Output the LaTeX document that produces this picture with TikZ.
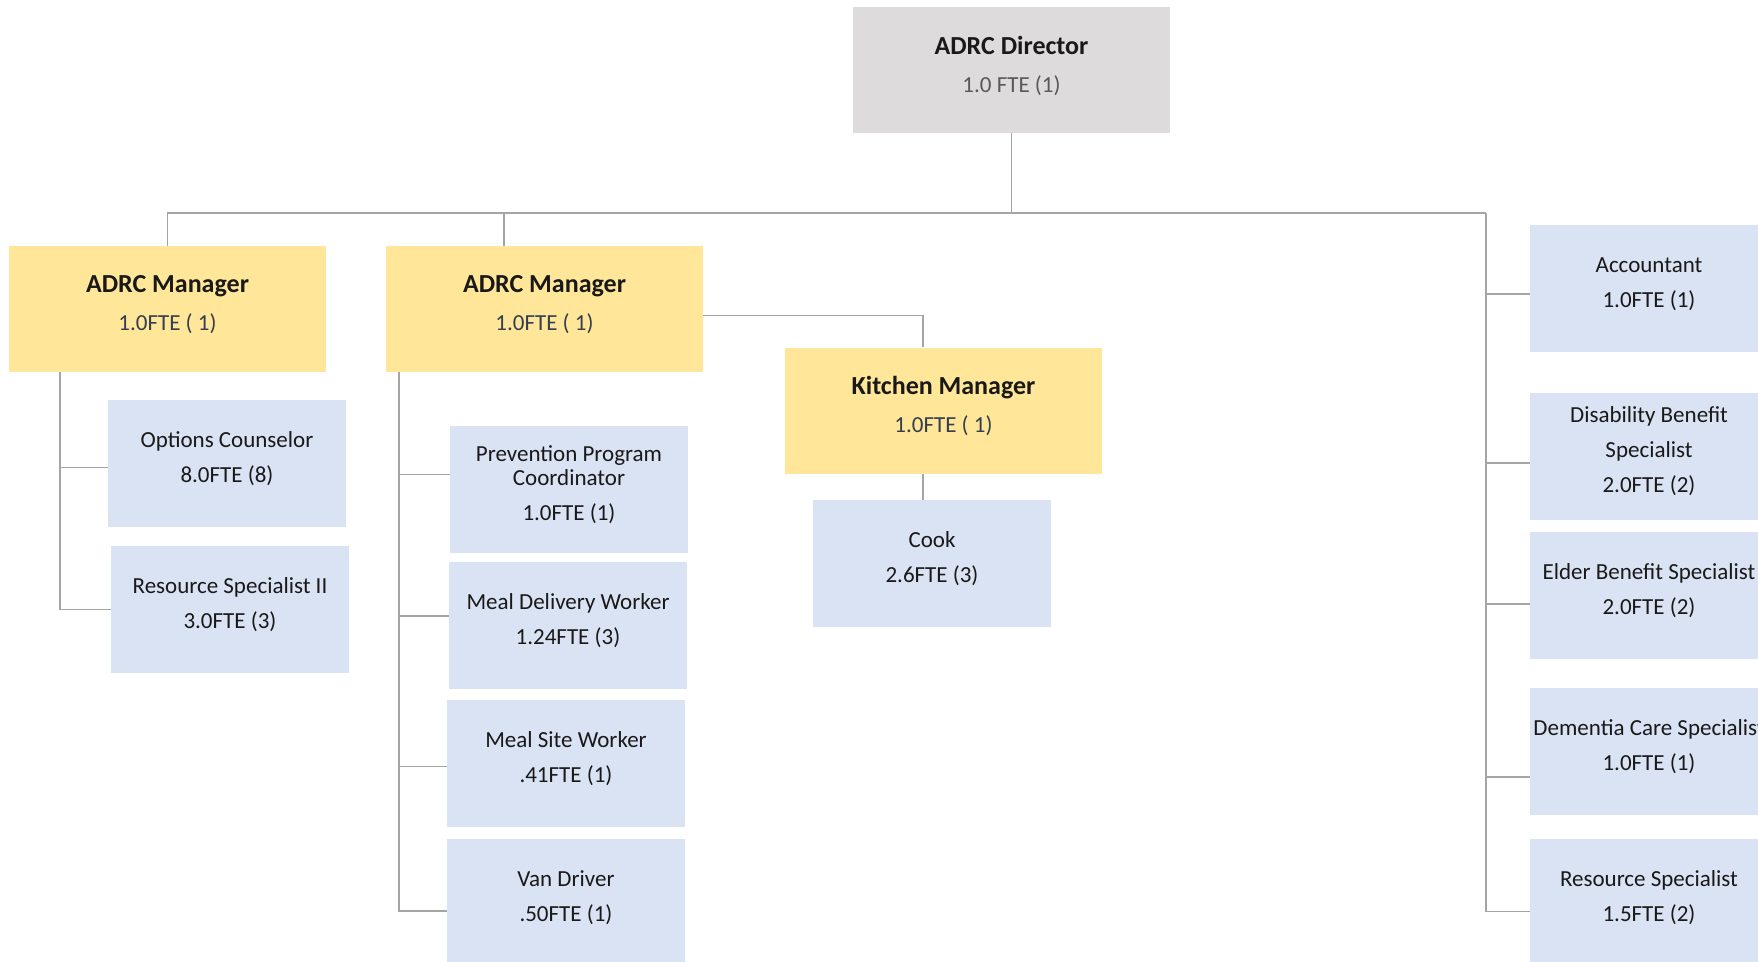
\documentclass[tikz,border=0pt]{standalone}
\usepackage{fontspec}
\setmainfont{Carlito}
\usepackage{tikz}
\definecolor{dirFill}{HTML}{DDDBDC}
\definecolor{mgrFill}{HTML}{FFE699}
\definecolor{staffFill}{HTML}{DAE3F3}
\definecolor{lineGray}{HTML}{A5A5A5}
\definecolor{dirText}{HTML}{595959}
\definecolor{mgrText}{HTML}{333F4F}
\tikzset{
    x=1pt, y=-1pt,
    font=\fontsize{23}{35}\selectfont,
    link/.style={draw=lineGray, line width=1.5pt},
    role box/.style={rectangle, inner sep=0pt, align=center, text=black!90, text depth=12pt},
    director/.style={role box, fill=dirFill, minimum width=317pt, minimum height=126pt},
    manager/.style={role box, fill=mgrFill, minimum width=317pt, minimum height=126pt},
    staff/.style={role box, fill=staffFill, minimum width=238pt, minimum height=127pt}
}
\newcommand{\roletitle}[1]{{\fontsize{26}{35}\selectfont\bfseries #1}}

\begin{document}
\begin{tikzpicture}
    \useasboundingbox (0,0) rectangle (1758,961);
    \clip (0,0) rectangle (1758,961);
    % top
    \node[director] (dir) at (1011.5,70) {\roletitle{ADRC Director}\\[3pt] \textcolor{dirText}{1.0 FTE (1)}};
    \node[manager] (mgrA) at (167.5,309) {\roletitle{ADRC Manager}\\[3pt] \textcolor{mgrText}{1.0FTE ( 1)}};
    \node[manager] (mgrB) at (544.5,309) {\roletitle{ADRC Manager}\\[3pt] \textcolor{mgrText}{1.0FTE ( 1)}};
    \node[manager] (kitchen) at (943.5,410.5) {\roletitle{Kitchen Manager}\\[3pt] \textcolor{mgrText}{1.0FTE ( 1)}};
    % staff under managers
    \node[staff] (opt) at (227,463.5) {Options Counselor\\ 8.0FTE (8)};
    \node[staff] (resII) at (230,609.5) {Resource Specialist II\\ 3.0FTE (3)};
    \node[staff] (prev) at (569,489.5) {Prevention Program\\[-11pt] Coordinator\\ 1.0FTE (1)};
    \node[staff] (mealdel) at (568,625) {Meal Delivery Worker\\ 1.24FTE (3)};
    \node[staff] (mealsite) at (566,763.5) {Meal Site Worker\\ .41FTE (1)};
    \node[staff] (van) at (566,902.5) {Van Driver\\ .50FTE (1)};
    \node[staff] (cook) at (932,563.5) {Cook\\ 2.6FTE (3)};
    % staff under director
    \node[staff] (acct) at (1649,288.5) {Accountant\\ 1.0FTE (1)};
    \node[staff] (disab) at (1649,456) {Disability Benefit\\ Specialist\\ 2.0FTE (2)};
    \node[staff] (elder) at (1649,595.3) {Elder Benefit Specialist\\ 2.0FTE (2)};
    \node[staff] (dementia) at (1649,751.3) {Dementia Care Specialist\\ 1.0FTE (1)};
    \node[staff] (resspec) at (1649,902.5) {Resource Specialist\\ 1.5FTE (2)};

    \coordinate (busR) at (1486,213);
    \coordinate (spineA) at ([xshift=51pt]mgrA.south west);
    \coordinate (spineB) at ([xshift=13.3pt]mgrB.south west);

    \draw[link] (dir) -- (dir |- busR);
    \draw[link] (mgrA.north) |- (busR);
    \draw[link] ([xshift=-40.5pt]mgrB.north) -- ([xshift=-40.5pt]mgrB.north |- busR);
    \draw[link] ([yshift=-6.3pt]mgrB.east) -| ([xshift=-20.5pt]kitchen.north);
    \draw[link] ([xshift=-20.5pt]kitchen.south) -- ([xshift=-9pt]cook.north);
    \draw[link] (spineA) |- ([yshift=-4.2pt]opt.west);
    \draw[link] (spineA) |- (resII.west);
    \draw[link] (spineB) |- ([yshift=15.2pt]prev.west);
    \draw[link] (spineB) |- ([yshift=9pt]mealdel.west);
    \draw[link] (spineB) |- ([yshift=-3.2pt]mealsite.west);
    \draw[link] (spineB) |- ([yshift=-8.5pt]van.west);
    \draw[link] (busR) |- ([yshift=-5.5pt]acct.west);
    \draw[link] (busR) |- ([yshift=-7pt]disab.west);
    \draw[link] (busR) |- ([yshift=-8.7pt]elder.west);
    \draw[link] (busR) |- ([yshift=-25.7pt]dementia.west);
    \draw[link] (busR) |- ([yshift=-9.2pt]resspec.west);
\end{tikzpicture}
\end{document}
